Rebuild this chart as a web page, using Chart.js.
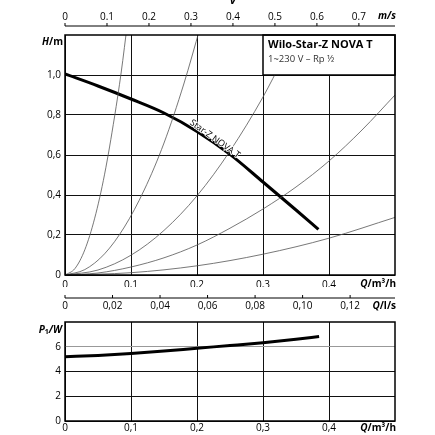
<!DOCTYPE html>
<html>
<head>
<meta charset="utf-8">
<script src="https://cdn.jsdelivr.net/npm/chart.js@4.4.0/dist/chart.umd.min.js"></script>
<style>
  html, body { margin: 0; padding: 0; background: #fff; }
  #wrap { position: relative; width: 435px; height: 435px; }
  canvas { position: absolute; left: 0; }
  #main { top: 0; }
  #power { top: 312px; }
</style>
</head>
<body>
<div id="wrap">
  <canvas id="main" width="435" height="312"></canvas>
  <canvas id="power" width="435" height="123"></canvas>
</div>
<script>
// pump curve H(Q), Q in m3/h, H in m
const pumpQ = [0, 0.05, 0.1, 0.15, 0.2, 0.25, 0.3, 0.35, 0.384];
const pumpH = [1.005, 0.945, 0.88, 0.81, 0.718, 0.603, 0.465, 0.325, 0.228];

// power input P1(Q) in W
const powerQ = [0, 0.05, 0.1, 0.15, 0.2, 0.25, 0.3, 0.35, 0.385];
const powerP = [5.2, 5.3, 5.45, 5.65, 5.88, 6.1, 6.33, 6.6, 6.82];

// thin system curves through the origin
const sys1Q = [0, 0.015, 0.03, 0.045, 0.06, 0.075, 0.085, 0.095];
const sys1H = [0, 0.032, 0.126, 0.284, 0.504, 0.79, 1.01, 1.27];
const sys2Q = [0, 0.03, 0.06, 0.09, 0.12, 0.15, 0.18, 0.205];
const sys2H = [0, 0.027, 0.106, 0.24, 0.425, 0.66, 0.955, 1.24];
const sys3Q = [0, 0.05, 0.1, 0.15, 0.2, 0.25, 0.3, 0.33, 0.35];
const sys3H = [0, 0.025, 0.099, 0.223, 0.396, 0.62, 0.89, 1.08, 1.21];
const sys4Q = [0, 0.05, 0.1, 0.15, 0.2, 0.25, 0.3, 0.35, 0.4, 0.45, 0.5];
const sys4H = [0, 0.01, 0.04, 0.086, 0.15, 0.234, 0.33, 0.44, 0.57, 0.725, 0.9];
const sys5Q = [0, 0.1, 0.2, 0.3, 0.4, 0.5];
const sys5H = [0, 0.0115, 0.046, 0.104, 0.184, 0.288];

// axes
const qTicks = [0, 0.1, 0.2, 0.3, 0.4];
const qLabels = ['0', '0,1', '0,2', '0,3', '0,4'];
const lsTicks = [0, 0.02, 0.04, 0.06, 0.08, 0.10, 0.12];
const lsLabels = ['0', '0,02', '0,04', '0,06', '0,08', '0,10', '0,12'];
const vTicks = [0, 0.1, 0.2, 0.3, 0.4, 0.5, 0.6, 0.7];
const vLabels = ['0', '0.1', '0.2', '0.3', '0.4', '0.5', '0.6', '0.7'];
const hTicks = [0, 0.2, 0.4, 0.6, 0.8, 1.0];
const hLabels = ['0', '0,2', '0,4', '0,6', '0,8', '1,0'];
const pTicks = [0, 2, 4, 6];
const pLabels = ['0', '2', '4', '6'];

const qMax = 0.5, lsMax = 0.5 / 3.6, vMax = 0.786, hMax = 1.2, pMax = 8;

const F = "'Open Sans', sans-serif";
Chart.defaults.font.family = F;
Chart.defaults.font.size = 10;
Chart.defaults.color = '#000';

const pts = (xs, ys) => xs.map((x, i) => ({x: x, y: ys[i]}));
const setTicks = (vals) => (s) => { s.ticks = vals.map(v => ({value: v})); };
const labelFrom = (labels) => (value, index) => labels[index];

function thin(q, h) {
    return {data: pts(q, h), borderColor: '#555', borderWidth: 0.8, pointRadius: 0, cubicInterpolationMode: 'monotone'};
}

function drawParts(ctx, parts, x, y, align) {
    let total = 0;
    parts.forEach(p => { ctx.font = p[1]; total += ctx.measureText(p[0]).width; });
    let cx = align === 'right' ? x - total : (align === 'center' ? x - total / 2 : x);
    ctx.textAlign = 'left';
    ctx.textBaseline = 'middle';
    parts.forEach(p => {
        ctx.font = p[1];
        ctx.fillText(p[0], cx, y + (p[2] || 0));
        cx += ctx.measureText(p[0]).width;
    });
}

const BI = 'italic bold 10px ' + F, B = 'bold 10px ' + F;

const mainDecor = {
    id: 'mainDecor',
    afterDatasetsDraw(chart) {
        const ctx = chart.ctx, ca = chart.chartArea;
        const sx = chart.scales.x, sy = chart.scales.y, sv = chart.scales.xv, sl = chart.scales.xs;
        ctx.save();

        // type box in the top right cell
        const bx1 = sx.getPixelForValue(0.3), bx2 = sx.getPixelForValue(qMax);
        const by1 = sy.getPixelForValue(hMax), by2 = sy.getPixelForValue(1.0);
        ctx.fillStyle = '#fff';
        ctx.fillRect(bx1, by1, bx2 - bx1, by2 - by1);
        ctx.lineWidth = 1.5;
        ctx.strokeStyle = '#000';
        ctx.strokeRect(bx1, by1, bx2 - bx1, by2 - by1);
        ctx.fillStyle = '#000';
        ctx.textAlign = 'left';
        ctx.textBaseline = 'middle';
        ctx.font = 'bold 11px ' + F;
        ctx.fillText('Wilo-Star-Z NOVA T', bx1 + 5, by1 + 10);
        ctx.font = '9.5px ' + F;
        ctx.fillStyle = '#333';
        ctx.fillText('1~230 V – Rp ½', bx1 + 5, by1 + 24);

        // frame
        ctx.lineWidth = 1.5;
        ctx.strokeStyle = '#000';
        ctx.strokeRect(ca.left, ca.top, ca.right - ca.left, ca.bottom - ca.top);

        // curve label
        ctx.save();
        ctx.translate(sx.getPixelForValue(0.227), sy.getPixelForValue(0.68));
        ctx.rotate(35.7 * Math.PI / 180);
        ctx.font = '9px ' + F;
        ctx.textAlign = 'center';
        ctx.textBaseline = 'middle';
        ctx.lineWidth = 1.5;
        ctx.strokeStyle = '#fff';
        ctx.strokeText('Star-Z NOVA T', 0, 0);
        ctx.fillStyle = '#000';
        ctx.fillText('Star-Z NOVA T', 0, 0);
        ctx.restore();

        // velocity axis line (top) and l/s axis line (below)
        ctx.lineWidth = 1;
        ctx.strokeStyle = '#000';
        const vy = sv.bottom - 9;
        ctx.beginPath();
        ctx.moveTo(ca.left, vy); ctx.lineTo(ca.right, vy);
        vTicks.forEach(v => { const px = sv.getPixelForValue(v); ctx.moveTo(px, vy); ctx.lineTo(px, vy - 3); });
        const ly = sl.top + 11;
        ctx.moveTo(ca.left, ly); ctx.lineTo(ca.right, ly);
        lsTicks.forEach(v => { const px = sl.getPixelForValue(v); ctx.moveTo(px, ly); ctx.lineTo(px, ly - 3); });
        ctx.stroke();

        // unit labels
        ctx.fillStyle = '#000';
        drawParts(ctx, [['v', 'italic bold 11px ' + F]], sv.getPixelForValue(0.4), 1, 'center');
        drawParts(ctx, [['m/s', BI]], ca.right + 1, 16.5, 'right');
        drawParts(ctx, [['H', BI], ['/m', B]], ca.left - 2, ca.top + 7, 'right');
        drawParts(ctx, [['Q', BI], ['/m³/h', B]], ca.right + 1, ca.bottom + 9.5, 'right');
        drawParts(ctx, [['Q', BI], ['/l/s', B]], ca.right + 1, sl.top + 19.5, 'right');
        ctx.restore();
    }
};

const powerDecor = {
    id: 'powerDecor',
    afterDatasetsDraw(chart) {
        const ctx = chart.ctx, ca = chart.chartArea;
        ctx.save();
        ctx.lineWidth = 1.5;
        ctx.strokeStyle = '#000';
        ctx.strokeRect(ca.left, ca.top, ca.right - ca.left, ca.bottom - ca.top);
        ctx.fillStyle = '#000';
        drawParts(ctx, [['P', BI], ['1', 'bold 7px ' + F, 2], ['/W', BI]], ca.left - 3, ca.top + 8, 'right');
        drawParts(ctx, [['Q', BI], ['/m³/h', B]], ca.right + 1, ca.bottom + 7, 'right');
        ctx.restore();
    }
};

const gridColor = '#111';

let mainChart = new Chart(document.getElementById('main'), {
    type: 'line',
    data: {
        datasets: [
            thin(sys1Q, sys1H),
            thin(sys2Q, sys2H),
            thin(sys3Q, sys3H),
            thin(sys4Q, sys4H),
            thin(sys5Q, sys5H),
            {data: pts(pumpQ, pumpH), borderColor: '#000', borderWidth: 3, pointRadius: 0, cubicInterpolationMode: 'monotone'}
        ]
    },
    options: {
        responsive: false,
        animation: false,
        layout: {padding: {left: 0, right: 40, top: 0, bottom: 0}},
        plugins: {legend: {display: false}, tooltip: {enabled: false}},
        scales: {
            x: {
                type: 'linear', position: 'bottom', min: 0, max: qMax, weight: 0,
                afterBuildTicks: setTicks(qTicks),
                afterFit: s => { s.height = 12; },
                ticks: {callback: labelFrom(qLabels), padding: 4, maxRotation: 0, autoSkip: false},
                grid: {color: gridColor, lineWidth: 1, drawTicks: false},
                border: {display: false}
            },
            xs: {
                type: 'linear', position: 'bottom', min: 0, max: lsMax, weight: 1,
                afterBuildTicks: setTicks(lsTicks),
                afterFit: s => { s.height = 25; },
                ticks: {callback: labelFrom(lsLabels), padding: 13.5, maxRotation: 0, autoSkip: false},
                grid: {display: false, drawTicks: false},
                border: {display: false}
            },
            xv: {
                type: 'linear', position: 'top', min: 0, max: vMax,
                afterBuildTicks: setTicks(vTicks),
                afterFit: s => { s.height = 35; },
                ticks: {callback: labelFrom(vLabels), padding: 12, maxRotation: 0, autoSkip: false},
                grid: {display: false, drawTicks: false},
                border: {display: false}
            },
            y: {
                type: 'linear', min: 0, max: hMax,
                afterBuildTicks: setTicks(hTicks),
                afterFit: s => { s.width = 65; },
                ticks: {callback: labelFrom(hLabels), padding: 4, autoSkip: false},
                grid: {color: gridColor, lineWidth: 1, drawTicks: false},
                border: {display: false}
            }
        }
    },
    plugins: [mainDecor]
});

let powerChart = new Chart(document.getElementById('power'), {
    type: 'line',
    data: {
        datasets: [
            {data: pts(powerQ, powerP), borderColor: '#000', borderWidth: 3, pointRadius: 0, cubicInterpolationMode: 'monotone'}
        ]
    },
    options: {
        responsive: false,
        animation: false,
        layout: {padding: {left: 0, right: 40, top: 6, bottom: 0}},
        plugins: {legend: {display: false}, tooltip: {enabled: false}},
        scales: {
            x: {
                type: 'linear', position: 'bottom', min: 0, max: qMax,
                afterBuildTicks: setTicks(qTicks),
                afterFit: s => { s.height = 14; },
                ticks: {callback: labelFrom(qLabels), padding: 1, maxRotation: 0, autoSkip: false},
                grid: {color: gridColor, lineWidth: 1, drawTicks: false},
                border: {display: false}
            },
            y: {
                type: 'linear', min: 0, max: pMax,
                afterBuildTicks: setTicks(pTicks),
                afterFit: s => { s.width = 65; },
                ticks: {callback: labelFrom(pLabels), padding: 4, autoSkip: false},
                grid: {color: c => (c.tick && c.tick.value === 6 ? '#999' : gridColor), lineWidth: 1, drawTicks: false},
                border: {display: false}
            }
        }
    },
    plugins: [powerDecor]
});
</script>
</body>
</html>
